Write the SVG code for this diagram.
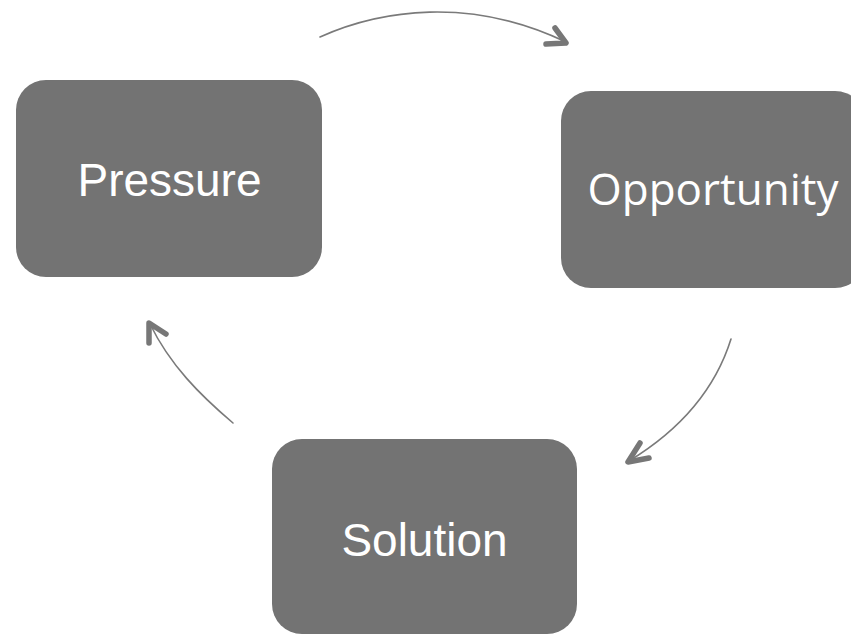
<svg xmlns="http://www.w3.org/2000/svg" width="851" height="635" viewBox="0 0 851 635">
<style>
.box{fill:#737373}
.lbl{fill:#ffffff;font-family:"Liberation Sans",Arial,sans-serif;font-size:46px;text-anchor:middle}
.lbl2{fill:#ffffff;font-family:"Open Sans","Noto Sans",sans-serif;font-size:44px;text-anchor:middle}
.curve{fill:none;stroke:#7a7a7a;stroke-width:1.6;stroke-linecap:round}
.head{fill:none;stroke:#777777;stroke-width:5.5;stroke-linecap:round;stroke-linejoin:round}
</style>
<rect width="851" height="635" fill="#ffffff"/>
<g id="connectors">
<path class="curve" d="M320,37 C380,10 470,-4 566,42"/>
<polyline class="head" points="555,28 566,43 546,44"/>
<path class="curve" d="M731,339 C715,390 680,430 629,461"/>
<polyline class="head" points="640,443 628,462 649,458"/>
<path class="curve" d="M233,423 C200,395 170,365 150,324"/>
<polyline class="head" points="149,343 149,323 166,334"/>
</g>
<g id="pressure">
<rect class="box" x="16" y="80" width="306" height="197" rx="30"/>
<text class="lbl" x="169.5" y="196">Pressure</text>
</g>
<g id="opportunity">
<rect class="box" x="561" y="91" width="304" height="197" rx="30"/>
<text class="lbl2" x="713" y="205">Opportunity</text>
</g>
<g id="solution">
<rect class="box" x="272" y="439" width="305" height="195" rx="30"/>
<text class="lbl" x="424.5" y="556">Solution</text>
</g>
</svg>
